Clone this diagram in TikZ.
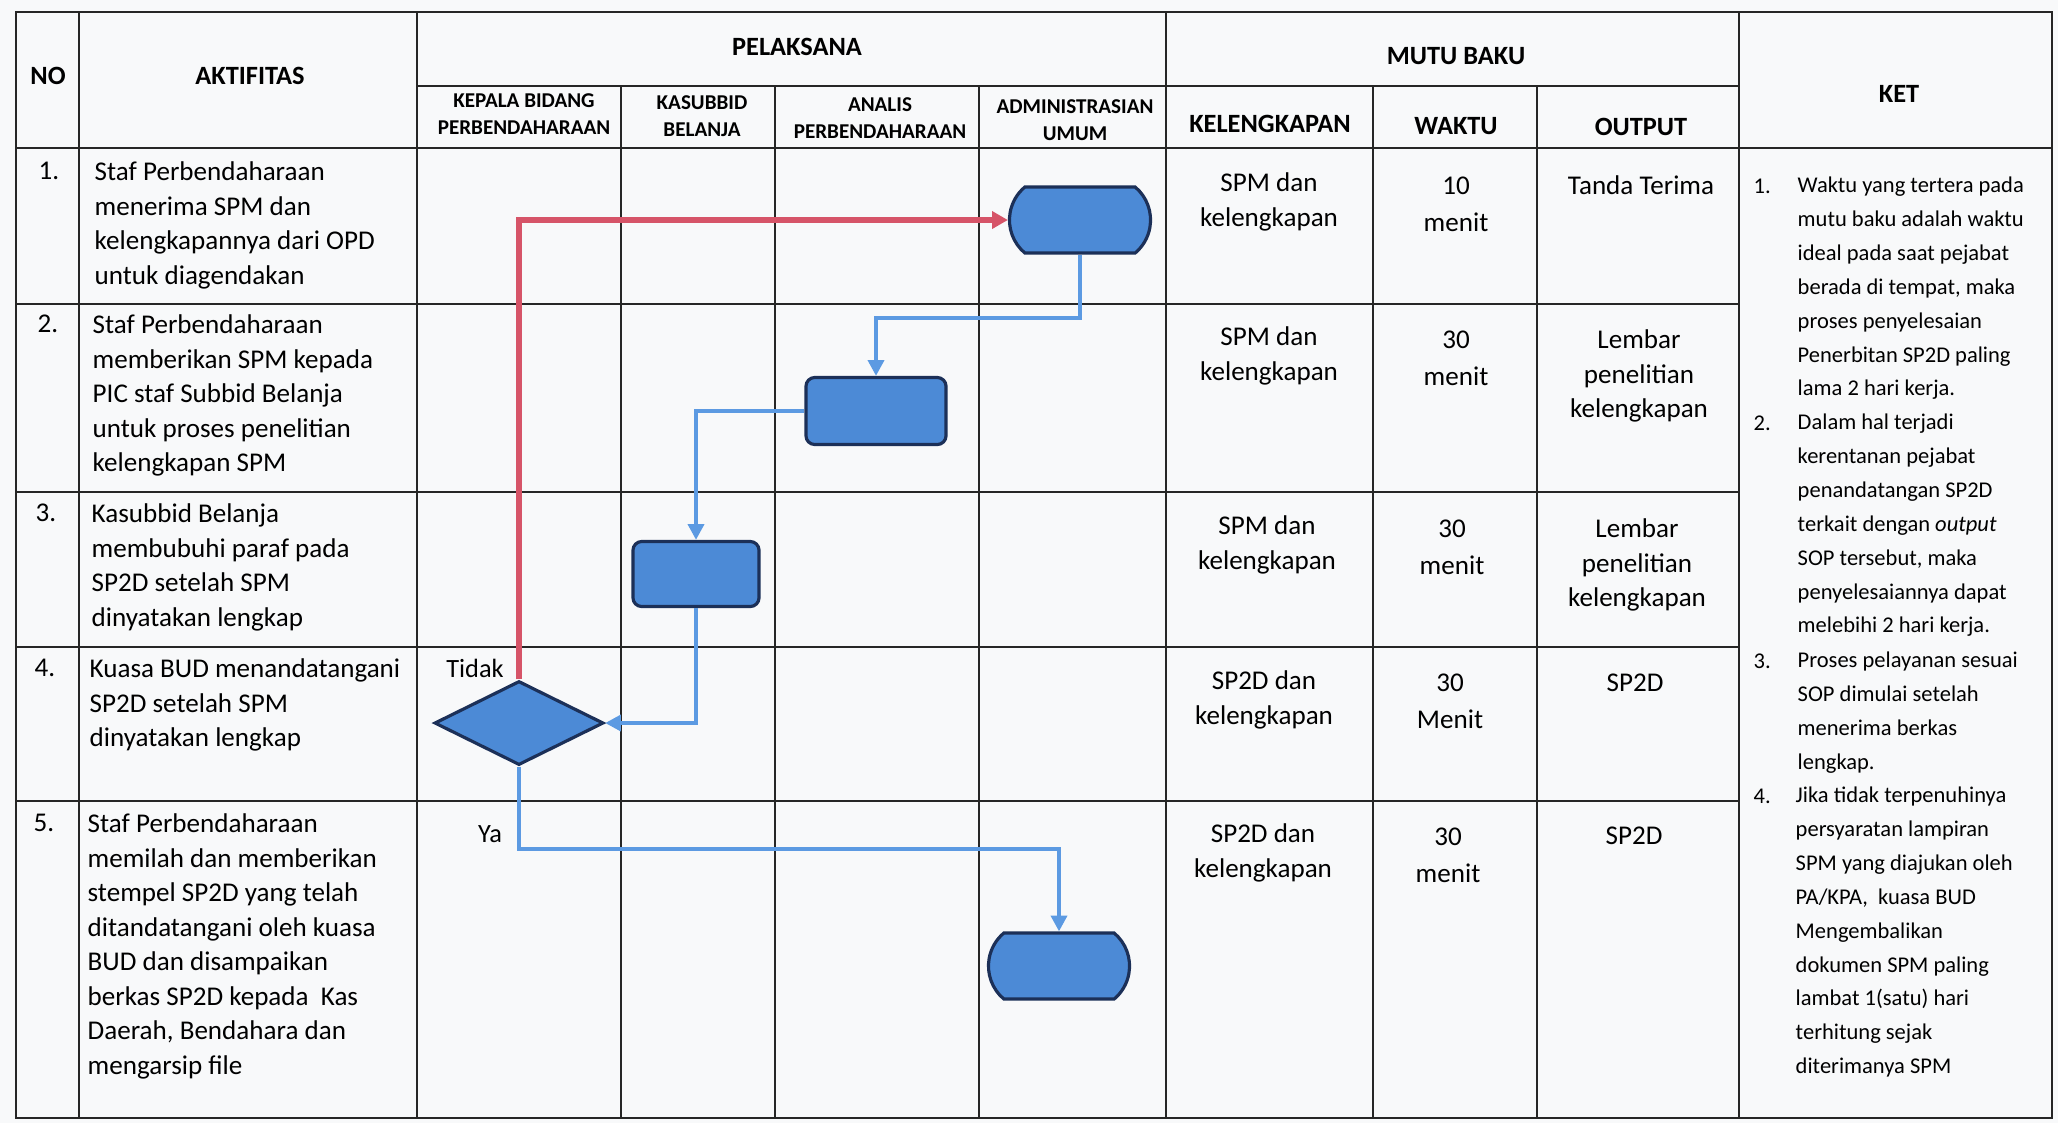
\documentclass[tikz,border=0pt]{standalone}
\usepackage{fontspec}
\setmainfont{Carlito}
\usetikzlibrary{shapes.geometric,shapes.misc,arrows.meta,calc}
\definecolor{paper}{RGB}{248,249,250}
\definecolor{shapefill}{RGB}{76,138,214}
\definecolor{shapeline}{RGB}{28,48,88}
\definecolor{flowblue}{RGB}{92,154,226}
\definecolor{flowred}{RGB}{214,84,104}
\tikzset{
  gridline/.style={line width=0.6pt, draw=black!85},
  hdr/.style={font=\fontsize{7.5}{9}\selectfont\bfseries, inner sep=0pt},
  subhdr/.style={font=\fontsize{6}{7.8}\selectfont\bfseries, align=center, inner sep=0pt},
  body/.style={font=\fontsize{7.7}{9.82}\selectfont, align=left, anchor=north west, inner sep=0pt},
  cellc/.style={font=\fontsize{7.7}{9.82}\selectfont, align=center, anchor=north, inner sep=0pt},
  cellw/.style={font=\fontsize{7.7}{10.5}\selectfont, align=center, anchor=north, inner sep=0pt},
  numlbl/.style={font=\fontsize{7.7}{9.82}\selectfont, anchor=base, inner sep=0pt},
  ketnum/.style={font=\fontsize{6.4}{9.65}\selectfont, anchor=base west, inner sep=0pt},
  kettxt/.style={font=\fontsize{6.4}{9.65}\selectfont, align=left, anchor=north west, inner sep=0pt},
  flowlbl/.style={font=\fontsize{7.5}{9}\selectfont, inner sep=0pt},
  shapebase/.style={draw=shapeline, fill=shapefill, line width=0.9pt, inner sep=0pt},
  termbox/.style={shapebase, rounded rectangle, rounded rectangle arc length=100, minimum width=1.41cm, minimum height=0.66cm},
  procbox/.style={shapebase, rectangle, rounded corners=2.5pt},
  decbox/.style={shapebase, diamond, minimum width=1.69cm, minimum height=0.84cm},
  blueflow/.style={draw=flowblue, line width=1.2pt, -{Triangle[length=4.5pt,width=4.5pt]}},
  redflow/.style={draw=flowred, line width=1.7pt, -{Triangle[length=4.5pt,width=4.8pt]}},
}
\begin{document}
\begin{tikzpicture}[x=0.01cm,y=-0.01cm]
\fill[paper] (0,0) rectangle (2058,1123);
\useasboundingbox (0,0) rectangle (2058,1123);

% table grid
\draw[gridline] (16,12) rectangle (2052,1118);
\foreach \xx in {79,417,1166,1739} \draw[gridline] (\xx,12) -- (\xx,1118);
\foreach \xx in {621,775,979,1373,1537} \draw[gridline] (\xx,86) -- (\xx,1118);
\draw[gridline] (417,86) -- (1739,86);
\draw[gridline] (16,148) -- (2052,148);
\foreach \yy in {304,492,647,801} \draw[gridline] (16,\yy) -- (1739,\yy);

% headers
\node[hdr] (hno) at (48,76) {NO};
\node[hdr] (hakt) at (250,76) {AKTIFITAS};
\node[hdr] (hpel) at (797,47) {PELAKSANA};
\node[subhdr] (hkep) at (524,114) {KEPALA BIDANG\\PERBENDAHARAAN};
\node[subhdr] (hkas) at (702,116) {KASUBBID\\BELANJA};
\node[subhdr] (hana) at (880,118) {ANALIS\\PERBENDAHARAAN};
\node[subhdr] (hadm) at (1075,120) {ADMINISTRASIAN\\UMUM};
\node[hdr] (hmutu) at (1456,56) {MUTU BAKU};
\node[hdr] (hkel) at (1270,124) {KELENGKAPAN};
\node[hdr] (hwak) at (1456,126) {WAKTU};
\node[hdr] (hout) at (1641,127) {OUTPUT};
\node[hdr] (hket) at (1899,94) {KET};

% row numbers
\node[numlbl] (n1) at (49,179) {1.};
\node[numlbl] (n2) at (48,332) {2.};
\node[numlbl] (n3) at (46,521) {3.};
\node[numlbl] (n4) at (45,676) {4.};
\node[numlbl] (n5) at (44,831) {5.};

% activities
\node[body] (a1) at (94,161) {Staf Perbendaharaan\\menerima SPM dan\\kelengkapannya dari OPD\\untuk diagendakan};
\node[body] (a2) at (92,314) {Staf Perbendaharaan\\memberikan SPM kepada\\PIC staf Subbid Belanja\\untuk proses penelitian\\kelengkapan SPM};
\node[body] (a3) at (91,503) {Kasubbid Belanja\\membubuhi paraf pada\\SP2D setelah SPM\\dinyatakan lengkap};
\node[body] (a4) at (89,658) {Kuasa BUD menandatangani\\SP2D setelah SPM\\dinyatakan lengkap};
\node[body] (a5) at (87,813) {Staf Perbendaharaan\\memilah dan memberikan\\stempel SP2D yang telah\\ditandatangani oleh kuasa\\BUD dan disampaikan\\berkas SP2D kepada\ \ Kas\\Daerah, Bendahara dan\\mengarsip file};

% kelengkapan
\node[cellc] (k1) at (1269,172) {SPM dan\\kelengkapan};
\node[cellc] (k2) at (1269,326) {SPM dan\\kelengkapan};
\node[cellc] (k3) at (1267,515) {SPM dan\\kelengkapan};
\node[cellc] (k4) at (1264,670) {SP2D dan\\kelengkapan};
\node[cellc] (k5) at (1263,823) {SP2D dan\\kelengkapan};

% waktu
\node[cellw] (w1) at (1456,176) {10\\menit};
\node[cellw] (w2) at (1456,330) {30\\menit};
\node[cellw] (w3) at (1452,519) {30\\menit};
\node[cellw] (w4) at (1450,673) {30\\Menit};
\node[cellw] (w5) at (1448,827) {30\\menit};

% output
\node[cellc] (o1) at (1641,175) {Tanda Terima};
\node[cellc] (o2) at (1639,329) {Lembar\\penelitian\\kelengkapan};
\node[cellc] (o3) at (1637,518) {Lembar\\penelitian\\kelengkapan};
\node[cellc] (o4) at (1635,673) {SP2D};
\node[cellc] (o5) at (1634,826) {SP2D};

% ket
\node[ketnum] (kn1) at (1753,193) {1.};
\node[kettxt] (kt1) at (1797,176) {Waktu yang tertera pada\\mutu baku adalah waktu\\ideal pada saat pejabat\\berada di tempat, maka\\proses penyelesaian\\Penerbitan SP2D paling\\lama 2 hari kerja.};
\node[ketnum] (kn2) at (1753,430) {2.};
\node[kettxt] (kt2) at (1797,413) {Dalam hal terjadi\\kerentanan pejabat\\penandatangan SP2D\\terkait dengan \textit{output}\\SOP tersebut, maka\\penyelesaiannya dapat\\melebihi 2 hari kerja.};
\node[ketnum] (kn3) at (1753,668) {3.};
\node[kettxt] (kt3) at (1797,651) {Proses pelayanan sesuai\\SOP dimulai setelah\\menerima berkas\\lengkap.};
\node[ketnum] (kn4) at (1753,803) {4.};
\node[kettxt] (kt4) at (1795,786) {Jika tidak terpenuhinya\\persyaratan lampiran\\SPM yang diajukan oleh\\PA/KPA,\ \ kuasa BUD\\Mengembalikan\\dokumen SPM paling\\lambat 1(satu) hari\\terhitung sejak\\diterimanya SPM};

% flow shapes
\node[termbox] (term1) at (1080,220) {};
\node[procbox, minimum width=1.40cm, minimum height=0.67cm] (proc2) at (876,411) {};
\node[procbox, minimum width=1.26cm, minimum height=0.65cm] (proc3) at (696,574) {};
\node[decbox] (dec4) at (519,723) {};
\node[termbox] (term5) at (1059,966) {};

% connectors
\draw[redflow] (dec4.north) |- (term1.west);
\draw[blueflow] (term1.south) -- ++(0,63) -| (proc2.north);
\draw[blueflow] (proc2.west) -| (proc3.north);
\draw[blueflow] (proc3.south) |- (dec4.east);
\draw[blueflow] (dec4.south) -- ++(0,82) -| (term5.north);

\node[flowlbl] (tidak) at (475,668) {Tidak};
\node[flowlbl] (ya) at (490,834) {Ya};
\end{tikzpicture}
\end{document}
